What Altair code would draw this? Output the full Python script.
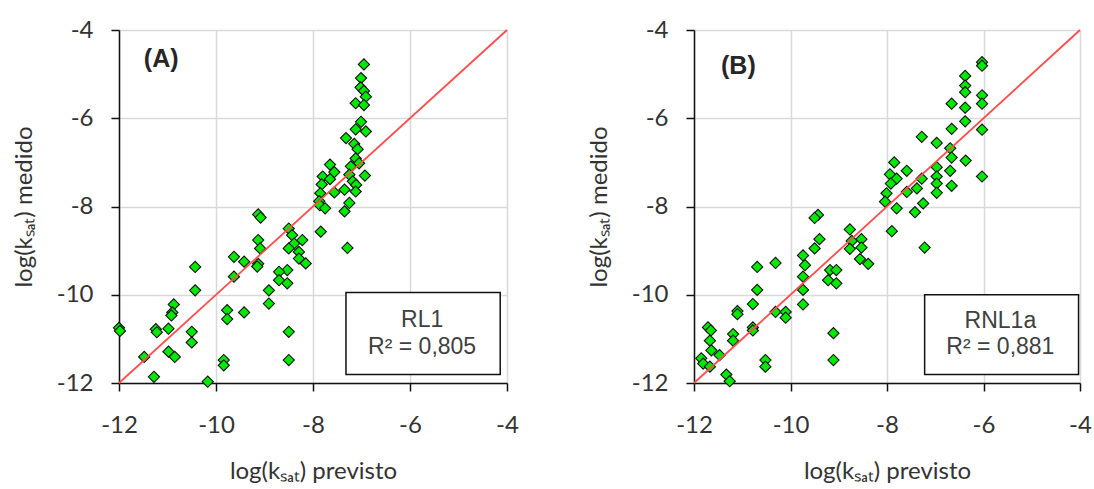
import altair as alt
import pandas as pd

# Panel A (RL1): predicted vs measured log(ksat)
a_prev = [-6.95, -7.01, -7.02, -6.95, -6.91, -7.12, -6.95, -7.01, -7.12, -6.91,
          -7.32, -7.15, -7.08, -7.12, -7.05, -7.22, -7.25, -6.93, -7.18, -7.11,
          -7.35, -7.12, -7.25, -7.35, -7.29, -7.65, -7.56, -7.80, -7.65, -7.82,
          -7.56, -7.85, -7.87, -7.86, -7.75, -7.84, -9.13, -9.08, -8.50, -8.43,
          -8.22, -8.39, -8.50, -8.29, -8.29, -8.15, -9.13, -9.09, -9.13, -9.15,
          -9.42, -9.63, -9.63, -8.53, -8.70, -8.70, -8.53, -8.91, -8.91, -10.43,
          -10.43, -10.87, -10.90, -10.92, -9.77, -9.77, -9.42, -8.50, -8.50, -12.00,
          -11.98, -11.24, -11.22, -10.98, -10.50, -10.50, -11.48, -10.98, -10.85, -9.84,
          -9.84, -11.28, -10.17]
a_med = [-4.78, -5.09, -5.30, -5.38, -5.51, -5.66, -5.70, -6.08, -6.25, -6.30,
         -6.45, -6.58, -6.70, -6.91, -7.02, -7.09, -7.28, -7.30, -7.43, -7.51,
         -7.62, -7.66, -7.92, -8.11, -8.94, -7.05, -7.22, -7.32, -7.38, -7.50,
         -7.68, -7.70, -7.88, -7.97, -8.04, -8.57, -8.18, -8.25, -8.50, -8.65,
         -8.76, -8.84, -8.95, -9.03, -9.18, -9.29, -8.76, -8.95, -9.30, -9.36,
         -9.25, -9.14, -9.59, -9.44, -9.48, -9.67, -9.74, -9.90, -10.20, -9.37,
         -9.90, -10.22, -10.40, -10.47, -10.35, -10.55, -10.40, -10.84, -11.48, -10.75,
         -10.82, -10.78, -10.85, -10.77, -10.84, -11.08, -11.41, -11.29, -11.41, -11.48,
         -11.60, -11.86, -11.97]

# Panel B (RNL1a)
b_prev = [-6.03, -6.03, -6.38, -6.38, -6.38, -6.66, -6.03, -6.03, -6.38, -6.38,
          -6.66, -6.03, -7.28, -6.97, -6.69, -6.66, -6.37, -6.97, -6.69, -6.03,
          -6.97, -7.28, -6.97, -6.66, -6.97, -7.38, -7.59, -7.25, -7.42, -7.85,
          -7.59, -7.94, -7.80, -7.92, -8.01, -8.04, -7.80, -7.90, -7.22, -9.43,
          -9.50, -8.77, -9.40, -9.50, -8.53, -8.73, -8.53, -8.77, -8.56, -8.39,
          -9.74, -9.70, -9.74, -9.74, -9.74, -9.18, -9.05, -9.22, -9.05, -10.31,
          -10.69, -10.69, -10.78, -11.10, -11.10, -10.31, -10.10, -10.10, -10.78, -10.78,
          -11.19, -11.19, -11.71, -11.65, -11.67, -11.64, -11.47, -11.85, -11.81, -11.67,
          -10.52, -10.52, -9.11, -9.11, -11.33, -11.26]
b_med = [-4.73, -4.81, -5.04, -5.26, -5.41, -5.67, -5.48, -5.67, -5.76, -6.07,
         -6.24, -6.26, -6.42, -6.56, -6.68, -6.89, -6.96, -7.11, -7.19, -7.32,
         -7.32, -7.37, -7.48, -7.53, -7.69, -7.59, -7.67, -7.93, -8.13, -7.00,
         -7.19, -7.27, -7.37, -7.48, -7.70, -7.89, -8.04, -8.56, -8.93, -8.19,
         -8.26, -8.52, -8.74, -8.95, -8.74, -8.78, -8.93, -8.96, -9.19, -9.30,
         -9.11, -9.33, -9.59, -9.89, -10.22, -9.44, -9.44, -9.67, -9.74, -9.28,
         -9.37, -9.89, -10.21, -10.37, -10.44, -10.39, -10.39, -10.52, -10.74, -10.81,
         -10.89, -11.04, -10.74, -10.81, -11.04, -11.26, -11.37, -11.44, -11.56, -11.63,
         -11.48, -11.63, -10.87, -11.48, -11.81, -11.96]

ticks = [-12, -10, -8, -6, -4]
line_ends = [-12, -4]

panel_tags = ["(A)", "(B)"]
tag_pos = [(-11.13, -4.65), (-11.08, -4.82)]
model_names = ["RL1", "RNL1a"]
r2_texts = ["R² = 0,805", "R² = 0,881"]
box_corners = [(-7.32, -4.14, -9.95, -11.81), (-7.22, -4.03, -10.0, -11.81)]
box_text_pos = [(-5.75, -10.58, -11.18), (-5.65, -10.59, -11.19)]

X_TITLE = "log(kₛₐₜ) previsto"
Y_TITLE = "log(kₛₐₜ) medido"
LABEL_EXPR = "replace(datum.label, '\u2212', '-')"


def panel(i, xs, ys, w, h):
    sx = alt.Scale(domain=[-12, -4], nice=False, zero=False)
    sy = alt.Scale(domain=[-12, -4], nice=False, zero=False)
    xax = alt.Axis(values=ticks, title=X_TITLE, labelFlush=False, labelExpr=LABEL_EXPR)
    yax = alt.Axis(values=ticks, title=Y_TITLE, labelFlush=False, labelExpr=LABEL_EXPR)
    X = lambda f: alt.X(f"{f}:Q", scale=sx, axis=xax)
    Y = lambda f: alt.Y(f"{f}:Q", scale=sy, axis=yax)

    pts = alt.Chart(pd.DataFrame({"x": xs, "y": ys})).mark_point(
        shape="diamond", filled=True, fill="#00ea00", stroke="#111111",
        strokeWidth=1.1, size=125, opacity=1
    ).encode(x=X("x"), y=Y("y"))

    line = alt.Chart(pd.DataFrame({"x": line_ends, "y": line_ends})).mark_line(
        color="#ff4d4d", strokeWidth=1.8
    ).encode(x=X("x"), y=Y("y"))

    x1, x2, y1, y2 = box_corners[i]
    box = alt.Chart(pd.DataFrame({"x": [x1], "x2": [x2], "y": [y1], "y2": [y2]})).mark_rect(
        fill="white", stroke="#111111", strokeWidth=1.5
    ).encode(x=X("x"), x2="x2:Q", y=Y("y"), y2="y2:Q")

    tx, ty1, ty2 = box_text_pos[i]
    btxt = alt.Chart(pd.DataFrame({"x": [tx, tx], "y": [ty1, ty2],
                                   "t": [model_names[i], r2_texts[i]]})).mark_text(
        font="Liberation Sans", fontSize=23, color="#404040", baseline="middle", align="center"
    ).encode(x=X("x"), y=Y("y"), text="t:N")

    gx, gy = tag_pos[i]
    tag = alt.Chart(pd.DataFrame({"x": [gx], "y": [gy], "t": [panel_tags[i]]})).mark_text(
        font="Liberation Sans", fontSize=25, fontWeight="bold", color="#262626",
        baseline="middle", align="center"
    ).encode(x=X("x"), y=Y("y"), text="t:N")

    return alt.layer(pts, line, box, btxt, tag).properties(width=w, height=h)


chart = alt.hconcat(
    panel(0, a_prev, a_med, 388, 353),
    panel(1, b_prev, b_med, 386, 353),
    spacing=68,
).properties(
    padding={"left": 12, "top": 18, "right": 0, "bottom": 0}
).configure_view(stroke=None).configure_axis(
    labelFont="Lato", labelFontSize=24, labelColor="#333333",
    titleFont="Lato", titleFontSize=24, titleFontWeight="normal", titleColor="#333333",
    gridColor="#d9d9d9", gridWidth=1.5,
    domainColor="#111111", domainWidth=1.5,
    tickColor="#111111", tickSize=8, tickWidth=1.5,
).configure_axisX(
    labelPadding=22, titlePadding=22,
).configure_axisY(
    labelPadding=18, titlePadding=20,
)

chart.save("out.html", embed_options={"renderer": "svg", "actions": False})
